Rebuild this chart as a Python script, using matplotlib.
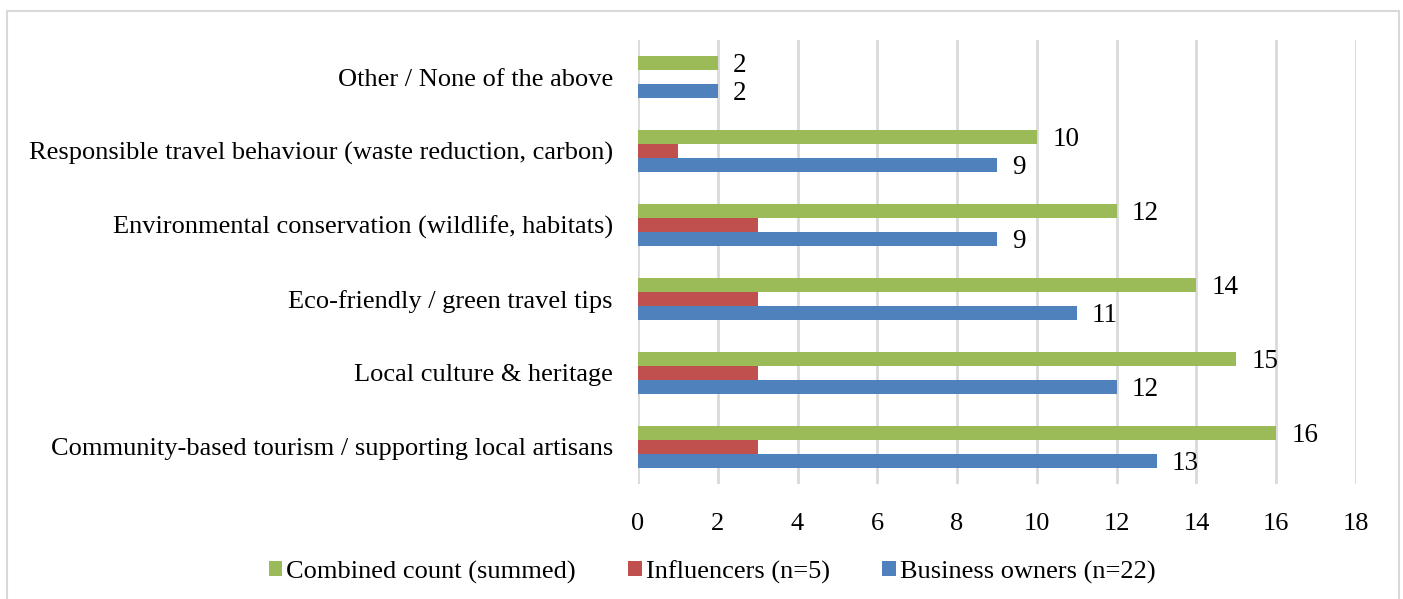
import matplotlib.pyplot as plt
import numpy as np

plt.rcParams['font.family'] = ['Liberation Serif', 'DejaVu Serif']

categories = ['Community-based tourism / supporting local artisans',
              'Local culture & heritage',
              'Eco-friendly / green travel tips',
              'Environmental conservation (wildlife, habitats)',
              'Responsible travel behaviour (waste reduction, carbon)',
              'Other / None of the above']
business = [13, 12, 11, 9, 9, 2]
influencers = [3, 3, 3, 3, 1, 0]
combined = [16, 15, 14, 12, 10, 2]

colors = ['#4F81BD', '#C0504D', '#9BBB59']  # blue, red, green

fig = plt.figure(figsize=(14.03, 5.99), dpi=100)
# light gray frame around the chart
fig.patches.append(plt.Rectangle((7 / 1403, -0.01), 1392 / 1403, 1 - 11 / 599 + 0.01,
                                 transform=fig.transFigure, fill=False,
                                 edgecolor='#d9d9d9', linewidth=1.5))
ax = fig.add_axes([638 / 1403, 1 - 484 / 599, (1356 - 638) / 1403, (484 - 40) / 599])

y = np.arange(len(categories))
h = 0.19
b1 = ax.barh(y - h, business, height=h, color=colors[0], label='Business owners (n=22)')
b2 = ax.barh(y, influencers, height=h, color=colors[1], label='Influencers (n=5)')
b3 = ax.barh(y + h, combined, height=h, color=colors[2], label='Combined count (summed)')

for bars in (b1, b3):
    for rect in bars:
        w = rect.get_width()
        ax.annotate(str(int(w)), (w, rect.get_y() + rect.get_height() / 2),
                    xytext=(11, -2), textcoords='offset points',
                    ha='left', va='center', fontsize=19.5)

ax.set_xlim(0, 18)
ax.set_ylim(-0.5, len(categories) - 0.5)
ax.set_xticks(range(0, 19, 2))
ax.set_yticks(y)
ax.set_yticklabels(categories)
ax.tick_params(axis='both', length=0, labelsize=19)
ax.tick_params(axis='x', pad=21)
ax.tick_params(axis='y', pad=18)
ax.grid(axis='x', color='#d9d9d9', linewidth=2)
ax.set_axisbelow(True)
for s in ax.spines.values():
    s.set_visible(False)

handles = [b3, b2, b1]
fig.legend(handles, [hh.get_label() for hh in handles], loc='center',
           bbox_to_anchor=(712 / 1403, 1 - 572 / 599), ncol=3, frameon=False,
           fontsize=19, handlelength=0.5, handleheight=0.5, handletextpad=0.15,
           columnspacing=2.0)

fig.savefig('out.png', dpi=100)
